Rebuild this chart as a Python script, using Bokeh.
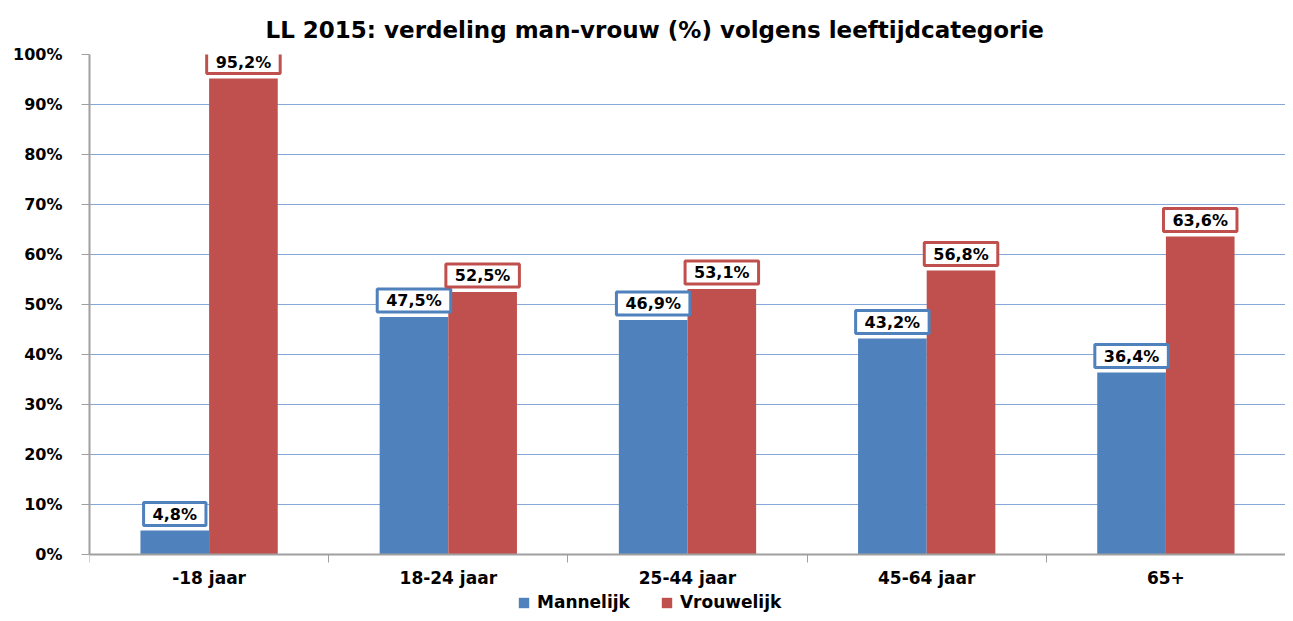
from bokeh.plotting import figure
from bokeh.models import (ColumnDataSource, FixedTicker, Label, Legend, LegendItem, Range1d)
from bokeh.embed import file_html
from bokeh.resources import INLINE

categories = ["-18 jaar", "18-24 jaar", "25-44 jaar", "45-64 jaar", "65+"]
mannelijk = [4.8, 47.5, 46.9, 43.2, 36.4]
vrouwelijk = [95.2, 52.5, 53.1, 56.8, 63.6]
series_names = ["Mannelijk", "Vrouwelijk"]
y_ticks = [0, 10, 20, 30, 40, 50, 60, 70, 80, 90, 100]

BLUE = "#4F81BD"
RED = "#C0504D"
FONT = "DejaVu Sans"
BW = 0.287

centers = [i + 0.5 for i in range(len(categories))]

def fmt(v):
    return f"{v:.1f}".replace(".", ",") + "%"

src_m = ColumnDataSource(dict(x=[c - BW / 2 for c in centers], y=mannelijk))
src_v = ColumnDataSource(dict(x=[c + BW / 2 for c in centers], y=vrouwelijk))

p = figure(width=1285, height=613, output_backend="svg", toolbar_location=None,
           x_range=Range1d(0, len(categories)), y_range=Range1d(-11.8, 100),
           min_border_left=89, min_border_right=0, min_border_top=54, min_border_bottom=0,
           title="LL 2015: verdeling man-vrouw (%) volgens leeftijdcategorie")
p.title.align = "left"
p.title.text_font = FONT
p.title.text_font_size = "23px"
p.title.text_font_style = "bold"
p.title.text_color = "black"
p.title.offset = 176
p.title.standoff = 24
p.outline_line_color = None

r_m = p.vbar(x="x", top="y", width=BW, source=src_m, fill_color=BLUE, line_color=None)
r_v = p.vbar(x="x", top="y", width=BW, source=src_v, fill_color=RED, line_color=None)

# axes
p.yaxis.ticker = FixedTicker(ticks=y_ticks)
p.yaxis.bounds = (0, 100)
p.yaxis.major_label_overrides = {t: f"{t}%" for t in y_ticks}
p.yaxis.axis_line_color = "#A0A0A0"
p.yaxis.axis_line_width = 2
p.yaxis.major_tick_line_color = "#A0A0A0"
p.yaxis.major_tick_out = 8
p.yaxis.major_tick_in = 0
p.yaxis.minor_tick_line_color = None
p.yaxis.major_label_standoff = 19
p.yaxis.major_label_text_font = FONT
p.yaxis.major_label_text_font_size = "16px"
p.yaxis.major_label_text_font_style = "bold"
p.yaxis.major_label_text_color = "black"

p.xaxis.fixed_location = 0
p.xaxis.ticker = FixedTicker(ticks=centers, minor_ticks=list(range(len(categories) + 1)))
p.xaxis.major_label_overrides = {c: cat for c, cat in zip(centers, categories)}
p.xaxis.axis_line_color = "#A0A0A0"
p.xaxis.axis_line_width = 2
p.xaxis.major_tick_line_color = None
p.xaxis.minor_tick_line_color = "#A0A0A0"
p.xaxis.minor_tick_out = 8
p.xaxis.minor_tick_in = 0
p.xaxis.major_label_standoff = 5
p.xaxis.major_label_text_font = FONT
p.xaxis.major_label_text_font_size = "17px"
p.xaxis.major_label_text_font_style = "bold"
p.xaxis.major_label_text_color = "black"

p.xgrid.grid_line_color = None
p.ygrid.ticker = FixedTicker(ticks=y_ticks[1:])
p.ygrid.grid_line_color = "#86A8D8"
p.ygrid.grid_line_width = 1

# data labels
for src, col in ((src_m, BLUE), (src_v, RED)):
    for xv, yv in zip(src.data["x"], src.data["y"]):
        lab = Label(x=xv, y=yv, text=fmt(yv), text_align="center",
                    text_baseline="bottom", y_offset=5,
                    text_font=FONT, text_font_size="16px", text_font_style="bold",
                    text_color="black", background_fill_color="white",
                    border_line_color=col, border_line_width=3,
                    padding=dict(left=9, right=9, top=2, bottom=2))
        p.add_layout(lab)

legend = Legend(items=[LegendItem(label=series_names[0], renderers=[r_m]),
                       LegendItem(label=series_names[1], renderers=[r_v])],
                orientation="horizontal", location=(428, 1),
                label_text_font=FONT, label_text_font_size="17px",
                label_text_font_style="bold", label_text_color="black",
                glyph_width=13, glyph_height=13, spacing=30, padding=0, margin=0,
                border_line_color=None, background_fill_alpha=0, label_standoff=7)
p.add_layout(legend, "center")

open("out.html", "w").write(file_html(p, INLINE))
